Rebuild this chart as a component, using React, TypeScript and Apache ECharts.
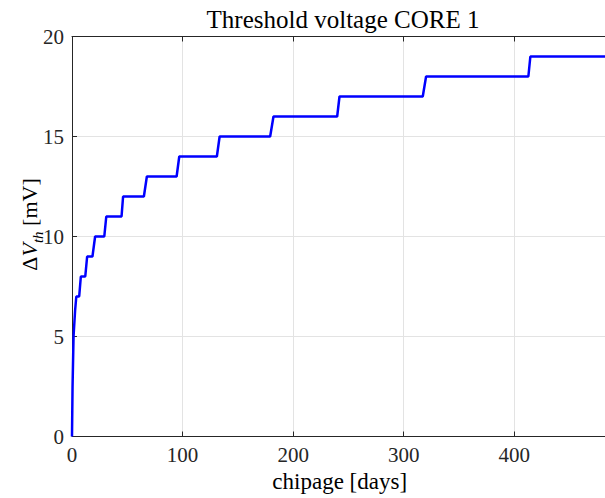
import React, { useEffect, useRef } from "react";
import * as echarts from "echarts";

const days = [0, 0.5, 1.4, 2.8, 3.9, 6.5, 8, 12, 13.7, 18.5, 20.9, 29.2, 31, 44.8, 46.2, 65, 67.7, 94.6, 97, 131, 133.5, 179.2, 182.2, 239.8, 241.9, 317.2, 320.2, 412.7, 414.5, 482];
const deltaVth = [0, 2.5, 5, 6.3, 7, 7, 8, 8, 9, 9, 10, 10, 11, 11, 12, 12, 13, 13, 14, 14, 15, 15, 16, 16, 17, 17, 18, 18, 19, 19];
const xTicks = [0, 100, 200, 300, 400];
const yTicks = [0, 5, 10, 15, 20];

const titleText = "Threshold voltage CORE 1";
const xLabel = "chipage [days]";

const FONT = '"Liberation Serif", "Times New Roman", serif';
const AX = "#262626";

export default function App() {
  const ref = useRef<HTMLDivElement>(null);
  useEffect(() => {
    if (!ref.current) return;
    const chart = echarts.init(ref.current, null, { renderer: "svg" });
    const data = days.map((d, i) => [d, deltaVth[i]]);
    const axisCommon = {
      type: "value" as const,
      axisLine: { show: true, lineStyle: { color: AX, width: 1 } },
      axisTick: { show: true, inside: true, length: 5, lineStyle: { color: AX } },
    };
    chart.setOption({
      animation: false,
      backgroundColor: "#ffffff",
      grid: { left: 72, right: -5, top: 36.5, bottom: 61.5, containLabel: false },
      xAxis: [
        {
          ...axisCommon,
          position: "bottom",
          min: 0,
          max: 482,
          interval: 100,
          axisLabel: {
            show: true,
            margin: 8,
            color: AX,
            fontFamily: FONT,
            fontSize: 21,
            showMaxLabel: false,
            formatter: (v: number) => (xTicks.includes(v) ? String(v) : ""),
          },
          splitLine: { show: true, lineStyle: { color: "#e3e3e3", width: 1 } },
        },
        {
          ...axisCommon,
          position: "top",
          min: 0,
          max: 482,
          interval: 100,
          axisLabel: { show: false },
          splitLine: { show: false },
        },
      ],
      yAxis: [
        {
          ...axisCommon,
          min: 0,
          max: 20,
          interval: 5,
          axisLabel: {
            show: true,
            margin: 8,
            color: AX,
            fontFamily: FONT,
            fontSize: 21,
            formatter: (v: number) => (yTicks.includes(v) ? String(v) : ""),
          },
          splitLine: { show: true, lineStyle: { color: "#e3e3e3", width: 1 } },
        },
      ],
      series: [
        {
          type: "line",
          data,
          xAxisIndex: 0,
          yAxisIndex: 0,
          showSymbol: false,
          symbol: "none",
          lineStyle: { color: "#0000ff", width: 2.5 },
          clip: true,
        },
      ],
      graphic: [
        {
          type: "text",
          x: 343,
          y: 19.5,
          style: {
            text: titleText,
            fontFamily: FONT,
            fontSize: 25,
            fill: "#000",
            align: "center",
            verticalAlign: "middle",
            textAlign: "center",
            textVerticalAlign: "middle",
          },
        },
        {
          type: "text",
          x: 339.7,
          y: 481.5,
          style: {
            text: xLabel,
            fontFamily: FONT,
            fontSize: 23,
            fill: "#000",
            align: "center",
            verticalAlign: "middle",
            textAlign: "center",
            textVerticalAlign: "middle",
          },
        },
        {
          type: "text",
          x: 29,
          y: 224.5,
          rotation: Math.PI / 2,
          style: {
            text: "{d|Δ}{v|V}{s|th}{n| [mV]}",
            fill: "#000",
            align: "center",
            verticalAlign: "middle",
            textAlign: "center",
            textVerticalAlign: "middle",
            rich: {
              d: { fontFamily: FONT, fontSize: 22, lineHeight: 32, verticalAlign: "middle", fill: "#000" },
              v: { fontFamily: FONT, fontSize: 22, fontStyle: "italic", lineHeight: 32, verticalAlign: "middle", fill: "#000" },
              s: { fontFamily: FONT, fontSize: 15, fontStyle: "italic", lineHeight: 14, verticalAlign: "bottom", fill: "#000" },
              n: { fontFamily: FONT, fontSize: 22, lineHeight: 32, verticalAlign: "middle", fill: "#000" },
            },
          },
        },
      ],
    });
    return () => chart.dispose();
  }, []);
  return (
    <div
      ref={ref}
      style={{ position: "absolute", left: 0, top: 0, width: 605, height: 498 }}
    />
  );
}
